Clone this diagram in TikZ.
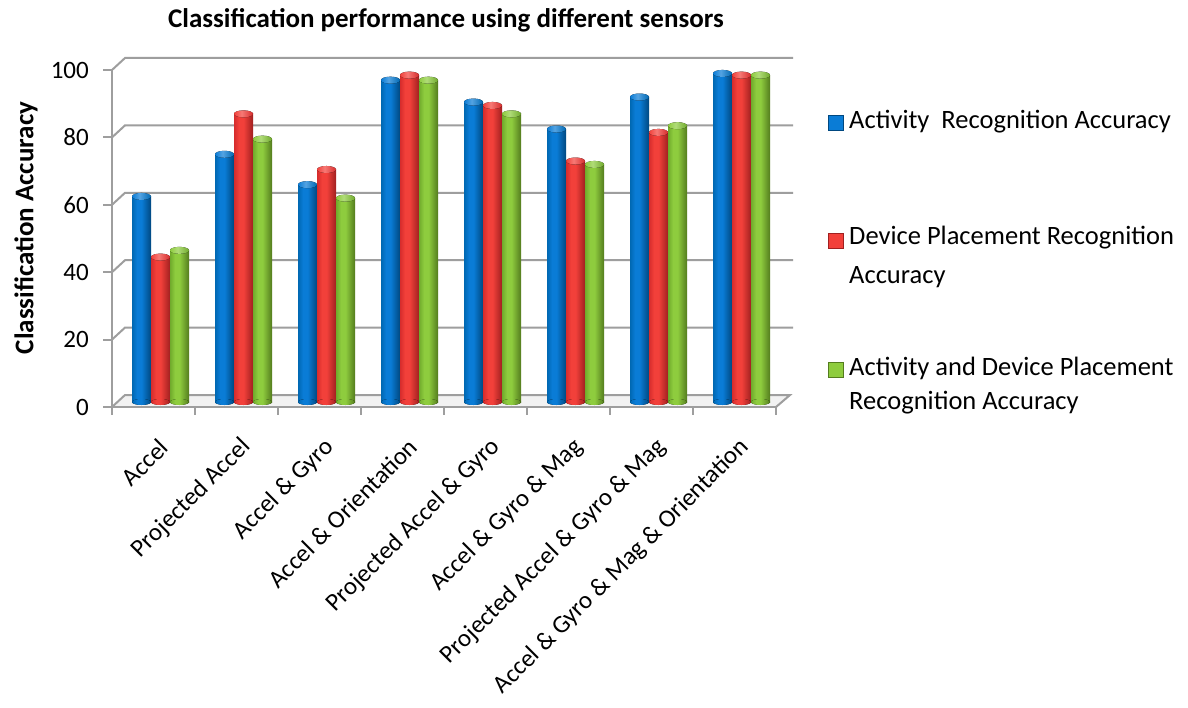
\documentclass[tikz,border=0pt]{standalone}
\usepackage{fontspec}
\setmainfont{Carlito}
\begin{document}
% bar colours: light edge, bright middle, dark edge
\definecolor{blueL}{RGB}{0,104,178}
\definecolor{blueM}{RGB}{10,124,214}
\definecolor{blueD}{RGB}{0,72,128}
\definecolor{redL}{RGB}{214,44,44}
\definecolor{redM}{RGB}{242,64,58}
\definecolor{redD}{RGB}{160,32,32}
\definecolor{greenL}{RGB}{112,170,44}
\definecolor{greenM}{RGB}{142,204,62}
\definecolor{greenD}{RGB}{84,124,30}
\definecolor{gridgray}{RGB}{158,158,158}
\pgfdeclarehorizontalshading{bluebar}{100bp}{color(0bp)=(blueL); color(25bp)=(blueL); color(38bp)=(blueM); color(50bp)=(blueM); color(75bp)=(blueD); color(100bp)=(blueD)}
\pgfdeclarehorizontalshading{redbar}{100bp}{color(0bp)=(redL); color(25bp)=(redL); color(38bp)=(redM); color(50bp)=(redM); color(75bp)=(redD); color(100bp)=(redD)}
\pgfdeclarehorizontalshading{greenbar}{100bp}{color(0bp)=(greenL); color(25bp)=(greenL); color(38bp)=(greenM); color(50bp)=(greenM); color(75bp)=(greenD); color(100bp)=(greenD)}
\pgfdeclarehorizontalshading{bluecap}{100bp}{color(0bp)=(blueM); color(25bp)=(blueM); color(45bp)=(blueM!70!white); color(75bp)=(blueL); color(100bp)=(blueL)}
\pgfdeclarehorizontalshading{redcap}{100bp}{color(0bp)=(redM); color(25bp)=(redM); color(45bp)=(redM!70!white); color(75bp)=(redL); color(100bp)=(redL)}
\pgfdeclarehorizontalshading{greencap}{100bp}{color(0bp)=(greenM); color(25bp)=(greenM); color(45bp)=(greenM!70!white); color(75bp)=(greenL); color(100bp)=(greenL)}
% one cylindrical bar: left x, value, colour family
\newcommand\cylbar[3]{%
  \pgfmathsetmacro\ytop{402-3.37*#2}%
  \fill[shading=#3bar] (#1,402) rectangle (#1+19,\ytop);
  \fill[shading=#3bar] (#1+9.5,402) ellipse [x radius=9.5pt, y radius=3pt];
  \fill[shading=#3cap] (#1+9.5,\ytop) ellipse [x radius=9.5pt, y radius=3.5pt];
}
\begin{tikzpicture}[x=1pt,y=-1pt,
  grid/.style={draw=gridgray, line width=2pt},
  ticklab/.style={anchor=east, font=\fontsize{25}{28}\selectfont, inner sep=0pt},
  catlab/.style={anchor=east, rotate=45, font=\fontsize{25}{28}\selectfont, inner sep=0pt},
  legtext/.style={anchor=west, font=\fontsize{26.5}{30}\selectfont, inner sep=0pt},
  legmark/.style={minimum size=15pt, inner sep=0pt, draw=#1D, fill=#1M}]
\useasboundingbox (0,0) rectangle (1188,708);
\fill[white] (0,0) rectangle (1188,708);

% floor
\fill[gray!10] (112,407) -- (125,395) -- (790,395) -- (776,407) -- cycle;
\draw[grid] (112,407) -- (125,395) -- (790,395) -- (776,407);
% back-wall gridlines with their depth diagonals
\foreach \v in {20,40,60,80,100}{
  \pgfmathsetmacro\yf{407-3.37*\v}
  \draw[grid] (112,\yf) -- (125,\yf-12) -- (793,\yf-12);
}
% front value axis and category axis
\draw[grid] (112,70) -- (112,407) -- (776,407);
\foreach \v/\t in {0/0,20/20,40/40,60/60,80/80,100/100}{
  \pgfmathsetmacro\yf{407-3.37*\v}
  \draw[grid] (103,\yf) -- (112,\yf);
  \node[ticklab] (tick\v) at (89,\yf) {\t};
}
\foreach \i in {0,...,8}{
  \draw[grid] (112+83*\i,407) -- (112+83*\i,415);
}

% bars
\foreach \i/\a/\b/\c in {0/61/43/45, 1/73.5/85.5/78, 2/64.5/69/60.5, 3/95.5/97/95.5,
    4/89/88/85.5, 5/81/71.5/70.5, 6/90.5/80/82, 7/97.5/97/97}{
  \pgfmathsetmacro\xa{132+83*\i}
  \cylbar{\xa}{\a}{blue}
  \cylbar{\xa+19}{\b}{red}
  \cylbar{\xa+38}{\c}{green}
}

% category labels
\foreach \i/\t in {0/Accel, 1/Projected Accel, 2/Accel \& Gyro, 3/Accel \& Orientation,
    4/Projected Accel \& Gyro, 5/Accel \& Gyro \& Mag, 6/Projected Accel \& Gyro \& Mag,
    7/Accel \& Gyro \& Mag \& Orientation}{
  \node[catlab] (cat\i) at (164+83*\i,443) {\t};
}

% titles
\node[font=\bfseries\fontsize{27}{30}\selectfont] (title) at (446,20)
  {Classification performance using different sensors};
\node[font=\bfseries\fontsize{27}{30}\selectfont, rotate=90] (ylab) at (26,228)
  {Classification Accuracy};

% legend
\node[legmark=blue] (m1) at (835.5,123) {};
\node[legtext] (l1) at (849,122) {Activity\ \ Recognition Accuracy};
\node[legmark=red] (m2) at (835.5,241) {};
\node[legtext] (l2a) at (849,238) {Device Placement Recognition};
\node[legtext] (l2b) at (849,277) {Accuracy};
\node[legmark=green] (m3) at (835.5,370) {};
\node[legtext] (l3a) at (849,368) {Activity and Device Placement};
\node[legtext] (l3b) at (849,403) {Recognition Accuracy};
\end{tikzpicture}
\end{document}
